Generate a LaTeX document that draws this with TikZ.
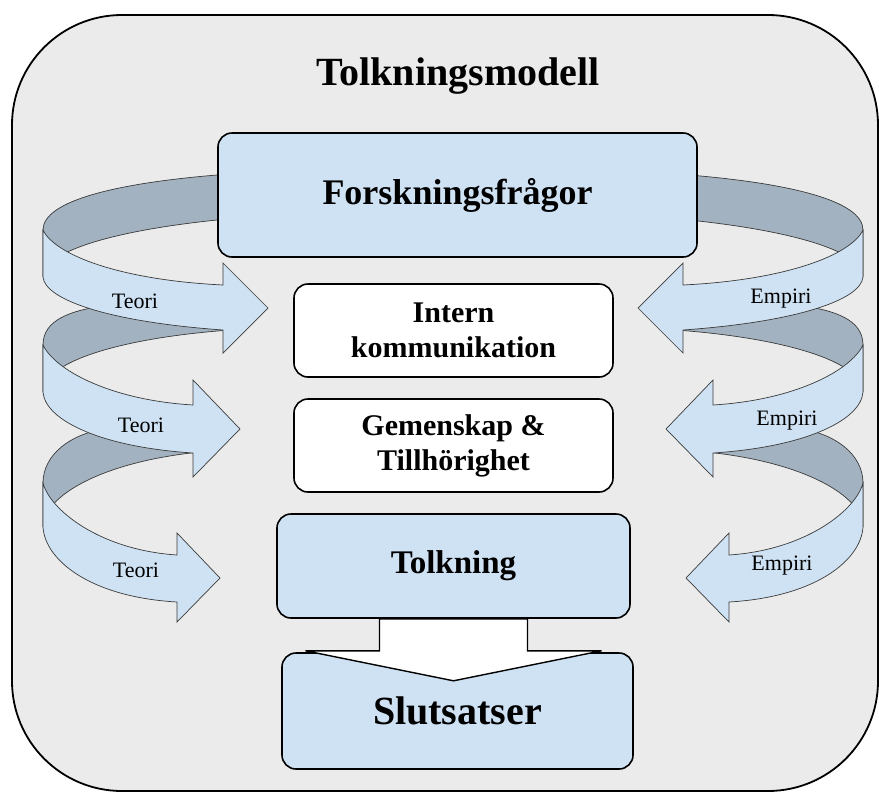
\documentclass[tikz,border=0pt]{standalone}
\usepackage{fontspec}
\setmainfont{Liberation Serif}
\usetikzlibrary{calc}
\definecolor{panelgray}{HTML}{EBEBEB}
\definecolor{boxblue}{HTML}{CFE2F3}
\definecolor{bandshade}{HTML}{A3B2C0}
\definecolor{bandline}{HTML}{3A3A3A}
\begin{document}
\begin{tikzpicture}[x=1pt, y=-1pt,
    panel/.style={draw, line width=1.8pt, fill=panelgray, rounded corners=110pt},
    box/.style={draw, line width=1.6pt, rounded corners=14pt, fill=boxblue,
      align=center, inner sep=0pt},
    whitebox/.style={box, fill=white},
    bandback/.style={draw=bandline, line width=0.7pt, fill=bandshade},
    bandfront/.style={draw=bandline, line width=0.7pt, fill=boxblue},
    flow/.style={draw, line width=1.4pt, fill=white, line join=miter},
    lbl/.style={anchor=base, font=\fontsize{22}{26}\selectfont}]
  \useasboundingbox (0,0) rectangle (879,793);
  \draw[panel] (12,15) rectangle (878,791);
  \node[anchor=base, font=\bfseries\fontsize{40}{44}\selectfont] (title) at (458,85) {Tolkningsmodell};

  % back halves of the bands
  \begin{scope}
    \draw[bandback] (240,174) -- (217,175) .. controls (120,183) and (43,200) .. (43,230)
      -- (43,277) .. controls (43,250) and (120,230) .. (217,220) -- (240,219) -- cycle;
    \draw[bandback] (200,300) -- (110,305) .. controls (70,310) and (43,320) .. (43,345)
      -- (43,392) .. controls (43,362) and (120,338) .. (230,330) -- cycle;
    \draw[bandback] (180,425) -- (110,428) .. controls (70,433) and (43,455) .. (43,483)
      -- (43,527) .. controls (43,497) and (100,462) .. (200,452) -- cycle;
  \end{scope}
  \begin{scope}[shift={(906,0)}, xscale=-1]
    \draw[bandback] (240,174) -- (217,175) .. controls (120,183) and (43,200) .. (43,230)
      -- (43,277) .. controls (43,250) and (120,230) .. (217,220) -- (240,219) -- cycle;
    \draw[bandback] (200,300) -- (110,305) .. controls (70,310) and (43,320) .. (43,345)
      -- (43,392) .. controls (43,362) and (120,338) .. (230,330) -- cycle;
    \draw[bandback] (180,425) -- (110,428) .. controls (70,433) and (43,455) .. (43,483)
      -- (43,527) .. controls (43,497) and (100,462) .. (200,452) -- cycle;
  \end{scope}

  \node[box, minimum width=479pt, minimum height=124pt,
    font=\bfseries\fontsize{36}{40}\selectfont] (forsk) at (457.5,195) {Forskningsfrågor};

  % front halves, ending in arrow heads
  \begin{scope}
    \draw[bandfront] (43,230) .. controls (55,255) and (120,280) .. (223,285)
      -- (223,263) -- (268,308) -- (223,353) -- (223,330)
      .. controls (110,322) and (45,300) .. (43,277) -- cycle;
    \draw[bandfront] (43,345) .. controls (55,370) and (110,400) .. (193,405)
      -- (193,380) -- (240,429) -- (193,477) -- (193,453)
      .. controls (100,447) and (45,420) .. (43,392) -- cycle;
    \draw[bandfront] (43,483) .. controls (50,510) and (100,550) .. (177,555)
      -- (177,533) -- (220,578) -- (177,622) -- (177,602)
      .. controls (90,597) and (45,560) .. (43,527) -- cycle;
  \end{scope}
  \begin{scope}[shift={(906,0)}, xscale=-1]
    \draw[bandfront] (43,230) .. controls (55,255) and (120,280) .. (223,285)
      -- (223,263) -- (268,308) -- (223,353) -- (223,330)
      .. controls (110,322) and (45,300) .. (43,277) -- cycle;
    \draw[bandfront] (43,345) .. controls (55,370) and (110,400) .. (193,405)
      -- (193,380) -- (240,429) -- (193,477) -- (193,453)
      .. controls (100,447) and (45,420) .. (43,392) -- cycle;
    \draw[bandfront] (43,483) .. controls (50,510) and (100,550) .. (177,555)
      -- (177,533) -- (220,578) -- (177,622) -- (177,602)
      .. controls (90,597) and (45,560) .. (43,527) -- cycle;
  \end{scope}

  \node[lbl] (teori1) at (135,308) {Teori};
  \node[lbl] (teori2) at (141,432) {Teori};
  \node[lbl] (teori3) at (136,577) {Teori};
  \node[lbl] (empiri1) at (781,303) {Empiri};
  \node[lbl] (empiri2) at (787,425) {Empiri};
  \node[lbl] (empiri3) at (782,570) {Empiri};

  \node[whitebox, minimum width=319pt, minimum height=93pt,
    font=\bfseries\fontsize{30}{35}\selectfont] (intern) at (453.5,330.5) {Intern\\kommunikation};
  \node[whitebox, minimum width=319pt, minimum height=93pt,
    font=\bfseries\fontsize{30}{35}\selectfont] (gemen) at (453.5,445.5) {Gemenskap \&\\Tillhörighet};
  \node[box, minimum width=353pt, minimum height=104pt,
    font=\bfseries\fontsize{33}{38}\selectfont] (tolk) at (453.5,566) {Tolkning};
  \node[box, minimum width=351pt, minimum height=116pt,
    font=\bfseries\fontsize{40}{44}\selectfont] (slut) at (457.5,711) {Slutsatser};

  \draw[flow] ($(tolk.south)+(-74,0)$) -- ++(0,32) -- ++(-74,0)
    -- ($(tolk.south)+(0,62)$) -- ++(148,-30) -- ++(-74,0)
    -- ($(tolk.south)+(74,0)$) -- cycle;
\end{tikzpicture}
\end{document}
